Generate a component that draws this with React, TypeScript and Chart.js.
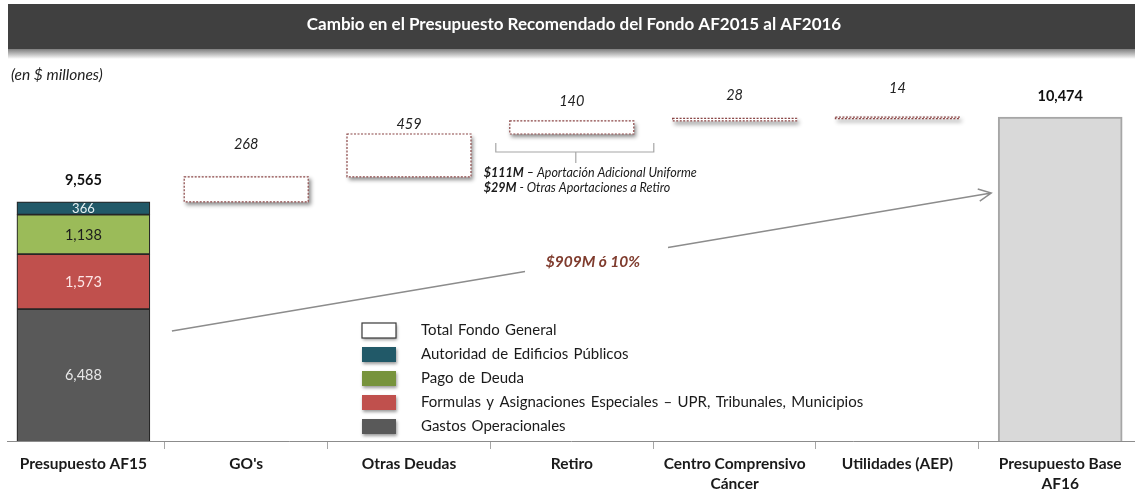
import React, { useEffect, useRef } from 'react';
import { Chart, registerables } from 'chart.js';

Chart.register(...registerables);

// ---------- DATA ----------
const categories: string[][] = [
  ['Presupuesto AF15'],
  ["GO's"],
  ['Otras Deudas'],
  ['Retiro'],
  ['Centro Comprensivo', 'Cáncer'],
  ['Utilidades (AEP)'],
  ['Presupuesto Base', 'AF16'],
];
// AF15 components, bottom to top
const componentNames = [
  'Gastos Operacionales',
  'Formulas y Asignaciones Especiales – UPR, Tribunales, Municipios',
  'Pago de Deuda',
  'Autoridad de Edificios Públicos',
];
const componentValues = [6488, 1573, 1138, 366];
// increments for GO's, Otras Deudas, Retiro, Centro Comprensivo Cáncer, Utilidades (AEP)
const incrementValues = [268, 459, 140, 28, 14];
const totalAF15 = 9565;
const totalAF16 = 10474;
const totalFundName = 'Total Fondo General';
const changeLabel = '$909M ó 10%';
const retiroNotes: [string, string][] = [
  ['$111M', ' – Aportación Adicional Uniforme'],
  ['$29M', ' - Otras Aportaciones a Retiro'],
];
const titleText = 'Cambio en el Presupuesto Recomendado del Fondo AF2015 al AF2016';
const unitsText = '(en $ millones)';

// ---------- STYLE ----------
const FONT = 'Lato, "Open Sans", sans-serif';
const componentColors = ['#595959', '#C0504D', '#9BBB59', '#215968'];
const componentLabelColors = ['#e8e8e8', '#fde6e6', '#1c1c1c', '#e6f0f2'];
const componentLabelSizes = [14.5, 14.5, 14.5, 13];
const legendColors = ['#ffffff', '#215968', '#77933C', '#C0504D', '#595959'];
const incLabelLift = [32, 10, 20, 23, 29];

const fmt = (v: number) => v.toLocaleString('en-US');

export default function App() {
  const ref = useRef<HTMLCanvasElement | null>(null);

  useEffect(() => {
    document.body.style.margin = '0';
    const canvas = ref.current;
    if (!canvas) return;

    // build floating ranges from the arrays
    const compStarts: number[] = [];
    let acc = 0;
    componentValues.forEach((v) => {
      compStarts.push(acc);
      acc += v;
    });
    const incStarts: number[] = [];
    let acc2 = totalAF15;
    incrementValues.forEach((v) => {
      incStarts.push(acc2);
      acc2 += v;
    });

    const yMin = 7000;
    const yMax = 11000;
    const y2Min = 2700;
    const y2Max = y2Min + ((totalAF15 - y2Min) * (yMax - yMin)) / (totalAF15 - yMin);

    const bottomClip = { left: false, top: false, right: false, bottom: 0 } as any;

    const datasets: any[] = componentValues.map((v, k) => ({
      label: componentNames[k],
      data: [{ x: 0, y: [compStarts[k], compStarts[k] + v] }],
      yAxisID: 'y2',
      backgroundColor: componentColors[k],
      borderColor: '#262626',
      borderWidth: 1.2,
      borderSkipped: false,
      barThickness: 133,
      grouped: false,
      clip: bottomClip,
    }));
    const wfIndex = datasets.length;
    datasets.push({
      label: totalFundName,
      data: incrementValues.map((v, i) => ({ x: i + 1, y: [incStarts[i], incStarts[i] + v] })),
      yAxisID: 'y',
      backgroundColor: '#ffffff',
      borderWidth: 0,
      barThickness: 124,
      grouped: false,
      clip: bottomClip,
    });
    const finalIndex = datasets.length;
    datasets.push({
      label: 'Presupuesto Base AF16',
      data: [{ x: 6, y: totalAF16 }],
      yAxisID: 'y',
      backgroundColor: '#D9D9D9',
      borderColor: '#A6A6A6',
      borderWidth: 2,
      borderSkipped: false,
      barThickness: 124,
      grouped: false,
      clip: bottomClip,
    });

    const decorPlugin = {
      id: 'decor',
      beforeDraw(chart: any) {
        const ctx = chart.ctx;
        ctx.save();
        ctx.fillStyle = '#ffffff';
        ctx.fillRect(0, 0, chart.width, chart.height);
        // title band
        ctx.fillStyle = '#404040';
        ctx.fillRect(8, 4, chart.width - 8, 45);
        const g = ctx.createLinearGradient(0, 49, 0, 59);
        g.addColorStop(0, 'rgba(120,120,120,0.95)');
        g.addColorStop(1, 'rgba(255,255,255,1)');
        ctx.fillStyle = g;
        ctx.fillRect(8, 49, chart.width - 8, 10);
        ctx.fillStyle = '#ffffff';
        ctx.font = `bold 17px ${FONT}`;
        ctx.textAlign = 'center';
        ctx.textBaseline = 'middle';
        ctx.fillText(titleText, 574, 25);
        ctx.fillStyle = '#222222';
        ctx.font = `italic 15.5px ${FONT}`;
        ctx.textAlign = 'left';
        ctx.fillText(unitsText, 11, 75);
        ctx.restore();
      },
      beforeDatasetDraw(chart: any, args: any) {
        if (args.index === wfIndex) {
          const ctx = chart.ctx;
          ctx.save();
          ctx.shadowColor = 'rgba(0,0,0,0.45)';
          ctx.shadowBlur = 4;
          ctx.shadowOffsetX = 2;
          ctx.shadowOffsetY = 3;
        }
      },
      afterDatasetDraw(chart: any, args: any) {
        if (args.index === wfIndex) {
          const ctx = chart.ctx;
          ctx.restore();
          ctx.save();
          ctx.strokeStyle = '#8a4545';
          ctx.lineWidth = 1.2;
          ctx.setLineDash([2, 1.5]);
          chart.getDatasetMeta(wfIndex).data.forEach((el: any) => {
            const p = el.getProps(['x', 'y', 'base', 'width'], true);
            const top = Math.min(p.y, p.base);
            const h = Math.max(Math.abs(p.base - p.y), 1.5);
            ctx.strokeRect(p.x - p.width / 2, top, p.width, h);
          });
          ctx.restore();
        }
      },
      afterDatasetsDraw(chart: any) {
        const ctx = chart.ctx;
        const area = chart.chartArea;
        ctx.save();
        ctx.textAlign = 'center';
        ctx.textBaseline = 'middle';
        // component labels
        let stackTop = 0;
        let stackRight = 0;
        componentValues.forEach((v, k) => {
          const el: any = chart.getDatasetMeta(k).data[0];
          const p = el.getProps(['x', 'y', 'base', 'width'], true);
          const bottom = Math.min(p.base, area.bottom);
          ctx.fillStyle = componentLabelColors[k];
          ctx.font = `${componentLabelSizes[k]}px ${FONT}`;
          ctx.fillText(fmt(v), p.x, (p.y + bottom) / 2 + 0.5);
          if (k === componentValues.length - 1) {
            stackTop = p.y;
          }
          stackRight = p.x + p.width / 2;
        });
        const el0: any = chart.getDatasetMeta(0).data[0];
        ctx.fillStyle = '#111111';
        ctx.font = `bold 14.5px ${FONT}`;
        ctx.fillText(fmt(totalAF15), el0.x, stackTop - 21);

        // increment labels
        ctx.font = `italic 14.5px ${FONT}`;
        ctx.fillStyle = '#222222';
        const wfEls = chart.getDatasetMeta(wfIndex).data;
        wfEls.forEach((el: any, i: number) => {
          const p = el.getProps(['x', 'y', 'base'], true);
          ctx.fillText(fmt(incrementValues[i]), p.x, Math.min(p.y, p.base) - incLabelLift[i]);
        });

        // final total
        const fEl: any = chart.getDatasetMeta(finalIndex).data[0];
        const fp = fEl.getProps(['x', 'y', 'width'], true);
        ctx.font = `bold 14.5px ${FONT}`;
        ctx.fillStyle = '#111111';
        ctx.fillText(fmt(totalAF16), fp.x, fp.y - 21);

        // Retiro bracket + notes
        const rp = wfEls[2].getProps(['x', 'y', 'base'], true);
        const bx0 = rp.x - 76;
        const bx1 = rp.x + 82;
        const by = Math.max(rp.y, rp.base) + 18;
        ctx.strokeStyle = '#a6a6a6';
        ctx.lineWidth = 1.2;
        ctx.beginPath();
        ctx.moveTo(bx0, by - 9);
        ctx.lineTo(bx0, by);
        ctx.lineTo(bx1, by);
        ctx.lineTo(bx1, by - 9);
        ctx.moveTo(rp.x + 4, by);
        ctx.lineTo(rp.x + 4, by + 11);
        ctx.stroke();
        ctx.textAlign = 'left';
        ctx.fillStyle = '#1a1a1a';
        retiroNotes.forEach(([a, b], i) => {
          const ty = by + 21 + i * 15;
          ctx.font = `bold italic 12.5px ${FONT}`;
          const tx = rp.x - 88;
          ctx.fillText(a, tx, ty);
          const w = ctx.measureText(a).width;
          ctx.font = `italic 12.5px ${FONT}`;
          ctx.fillText(b, tx + w, ty);
        });

        // growth arrow
        const x0 = stackRight + 22;
        const y0 = 331;
        const x1 = fp.x - fp.width / 2 - 7;
        const y1 = 193;
        const yAt = (x: number) => y0 + ((y1 - y0) * (x - x0)) / (x1 - x0);
        ctx.strokeStyle = '#8c8c8c';
        ctx.lineWidth = 1.5;
        ctx.beginPath();
        ctx.moveTo(x0, y0);
        ctx.lineTo(525, yAt(525));
        ctx.moveTo(668, yAt(668));
        ctx.lineTo(x1, y1);
        const ang = Math.atan2(y1 - y0, x1 - x0);
        const L = 14;
        ctx.moveTo(x1 - L * Math.cos(ang - 0.45), y1 - L * Math.sin(ang - 0.45));
        ctx.lineTo(x1, y1);
        ctx.lineTo(x1 - L * Math.cos(ang + 0.45), y1 - L * Math.sin(ang + 0.45));
        ctx.stroke();
        ctx.textAlign = 'center';
        ctx.fillStyle = '#7f3b2d';
        ctx.font = `bold italic 15.5px ${FONT}`;
        ctx.fillText(changeLabel, 593, 262);
        ctx.restore();
      },
      afterDraw(chart: any) {
        const ctx = chart.ctx;
        const names = [totalFundName, ...componentNames.slice().reverse()];
        ctx.save();
        names.forEach((name, i) => {
          const cy = 330 + i * 24;
          ctx.save();
          ctx.shadowColor = 'rgba(0,0,0,0.4)';
          ctx.shadowBlur = 3;
          ctx.shadowOffsetX = 1;
          ctx.shadowOffsetY = 2;
          ctx.fillStyle = legendColors[i];
          ctx.fillRect(362, cy - 7, 34, 15);
          ctx.restore();
          if (i === 0) {
            ctx.strokeStyle = '#3a3a3a';
            ctx.lineWidth = 1.2;
            ctx.strokeRect(362, cy - 7, 34, 15);
          }
          ctx.fillStyle = '#1a1a1a';
          ctx.font = `15px ${FONT}`;
          (ctx as any).wordSpacing = '1.5px';
          ctx.textAlign = 'left';
          ctx.textBaseline = 'middle';
          ctx.fillText(name, 421, cy);
          (ctx as any).wordSpacing = '0px';
        });
        ctx.restore();
      },
    };

    const chart = new Chart(canvas, {
      type: 'bar',
      data: { datasets },
      options: {
        animation: false,
        responsive: false,
        devicePixelRatio: 1,
        layout: { padding: { left: 7, top: 68, right: 0, bottom: 0 } },
        plugins: { legend: { display: false }, tooltip: { enabled: false }, title: { display: false } },
        scales: {
          x: {
            type: 'linear',
            offset: false,
            min: -0.4693,
            max: 6.4595,
            bounds: 'data',
            afterBuildTicks: (s: any) => {
              s.ticks = categories.map((_, i) => ({ value: i }));
            },
            afterFit: (s: any) => {
              s.height = 51;
            },
            ticks: {
              autoSkip: false,
              maxRotation: 0,
              minRotation: 0,
              padding: 5,
              color: '#1a1a1a',
              font: { family: FONT, size: 15.5, weight: 'bold', lineHeight: 1.3 },
              callback: (v: any) => categories[Math.round(Number(v))] ?? '',
            },
            grid: {
              display: true,
              drawOnChartArea: false,
              drawTicks: true,
              tickLength: 8,
              color: '#a6a6a6',
              offset: true,
            },
            border: { display: true, color: '#8c8c8c', width: 1 },
          },
          y: { type: 'linear', display: false, min: yMin, max: yMax },
          y2: { type: 'linear', display: false, min: y2Min, max: y2Max },
        },
      } as any,
      plugins: [decorPlugin],
    });
    return () => chart.destroy();
  }, []);

  return (
    <div style={{ width: 1135, height: 492, position: 'relative' }}>
      <canvas ref={ref} width={1135} height={492} style={{ display: 'block' }} />
    </div>
  );
}
